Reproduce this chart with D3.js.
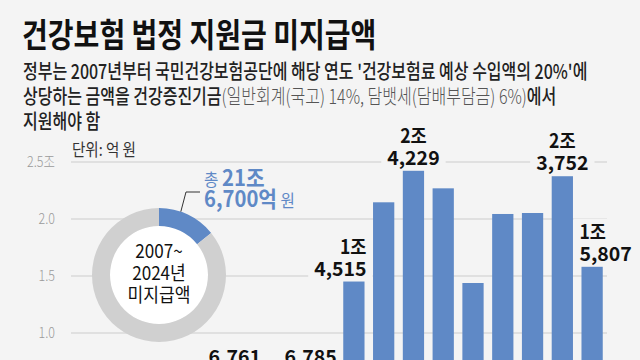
<!DOCTYPE html>
<html><head><meta charset="utf-8">
<script src="https://cdn.jsdelivr.net/npm/d3@7"></script>
<style>
html,body{margin:0;padding:0;background:#f4f4f4;}
svg{display:block;font-family:"Noto Sans CJK KR","Noto Sans",sans-serif;}
</style></head>
<body>
<svg id="c" width="640" height="360"></svg>
<script>
// ---- data ----
const years = [2007,2008,2009,2010,2011,2012,2013,2014,2015,2016,2017,2018,2019,2020,2021,2022,2023,2024];
const values = [2900,1500,3800,4800,5300,6761,3900,3150,6785,14515,21465,24229,22690,14386,20440,20526,23752,15807];
const labeledYears = [2012,2015,2016,2018,2023,2024];
const yTicks = [10000,15000,20000,25000];
const yTickLabels = ["1.0","1.5","2.0","2.5조"];
const donutShare = [0.142, 0.858]; // 미지급 share of ring (blue / gray)
const title = "건강보험 법정 지원금 미지급액";
const subtitle = [
  [["정부는 2007년부터 국민건강보험공단에 해당 연도 '건강보험료 예상 수입액의 20%'에", 0]],
  [["상당하는 금액을 건강증진기금", 0], ["(일반회계(국고) 14%, 담뱃세(담배부담금) 6%)", 1], ["에서", 0]],
  [["지원해야 함", 0]]
];
const unitLabel = "단위: 억 원";
const donutCenter = ["2007~", "2024년", "미지급액"];
const totalLine1 = ["총", "21조"];
const totalLine2 = ["6,700억", "원"];

// ---- drawing ----
const svg = d3.select("#c");
const BLUE = "#5f89c6";
svg.append("rect").attr("width",640).attr("height",360).attr("fill","#f4f4f4");

function stext(parent, x, y, sx, anchor){
  const g = parent.append("g").attr("transform", `translate(${x},${y}) scale(${sx},1)`);
  return g.append("text").attr("text-anchor", anchor || "start");
}

// title
stext(svg, 22, 47, 0.85).text(title)
  .attr("font-size", 33).attr("font-weight", 700).attr("fill", "#111");

// subtitle
subtitle.forEach((line, i) => {
  const t = stext(svg, 23, 79, 0.8).attr("font-size", 20).attr("fill", "#2a2a2a")
    .attr("transform", `translate(0,${i*25})`);
  line.forEach(([s, light]) => {
    t.append("tspan").text(s).attr("font-weight", light ? 300 : 500)
      .attr("fill", light ? "#555" : "#222");
  });
});

// scales
const x = d3.scaleBand().domain(years).range([71, 607]).paddingInner(0.286).paddingOuter(0.143);
const y = d3.scaleLinear().domain([0, 25000]).range([447, 162]);

// gridlines
const grid = svg.append("g");
grid.selectAll("line").data(yTicks).join("line")
  .attr("x1", 71).attr("x2", 607)
  .attr("y1", d => y(d)).attr("y2", d => y(d))
  .attr("stroke", "#cccccc").attr("stroke-width", 1);

// y axis labels
yTicks.forEach((d, i) => {
  stext(svg, 55, y(d) + 5, 0.86, "end").text(yTickLabels[i])
    .attr("font-size", 14.5).attr("font-weight", 300).attr("fill", "#9a9a9a");
});

// unit label
stext(svg, 72, 156, 0.88).text(unitLabel).attr("font-size", 16.5).attr("fill", "#333");

// bars
svg.append("g").selectAll("rect").data(years).join("rect")
  .attr("x", d => x(d)).attr("width", x.bandwidth())
  .attr("y", (d, i) => y(values[i])).attr("height", (d, i) => y(0) - y(values[i]))
  .attr("fill", BLUE);

// bar labels
const anchorFor = {2015: "end", 2016: "end", 2024: "start"};
const lblG = svg.append("g");
years.forEach((yr, i) => {
  if (!labeledYears.includes(yr)) return;
  const v = values[i];
  const anchor = anchorFor[yr] || "middle";
  const ax = anchor === "end" ? x(yr) + x.bandwidth() + 2 : anchor === "start" ? x(yr) - 2 : x(yr) + x.bandwidth()/2;
  const top = y(v);
  const lines = v >= 10000 ? [Math.floor(v/10000) + "조", d3.format(",")(v % 10000)] : [d3.format(",")(v)];
  const g = lblG.append("g");
  const base2 = top - 6;
  const made = [];
  lines.forEach((s, k) => {
    const by = base2 - (lines.length - 1 - k) * 22;
    const t = stext(g, ax, by, s.includes("조") ? 0.9 : 1.0, anchor).text(s)
      .attr("font-size", 19.5).attr("font-weight", 700).attr("fill", "#111");
    made.push(t);
  });
  // background behind label to break gridlines
  let minX = Infinity, maxX = -Infinity, minY = Infinity, maxY = -Infinity;
  made.forEach(t => {
    const b = t.node().getBBox();
    const m = t.node().parentNode.getCTM();
    const sx = m.a;
    const x0 = m.e + b.x * sx, x1 = m.e + (b.x + b.width) * sx;
    minX = Math.min(minX, x0); maxX = Math.max(maxX, x1);
    minY = Math.min(minY, m.f + b.y); maxY = Math.max(maxY, m.f + b.y + b.height);
  });
  g.insert("rect", ":first-child")
    .attr("x", minX - 6).attr("width", maxX - minX + 12)
    .attr("y", minY + 3).attr("height", Math.max(0, Math.min(maxY, top - 1) - minY - 3))
    .attr("fill", "#f4f4f4");
});

// donut
const cx = 159, cy = 275, rO = 67, rI = 49;
const dg = svg.append("g").attr("transform", `translate(${cx},${cy})`);
dg.append("circle").attr("r", rI).attr("fill", "#ffffff");
const pie = d3.pie().sort(null).value(d => d)(donutShare);
const arc = d3.arc().innerRadius(rI).outerRadius(rO);
dg.selectAll("path").data(pie).join("path")
  .attr("d", arc).attr("fill", (d, i) => i === 0 ? BLUE : "#d0d0d0");

donutCenter.forEach((s, i) => {
  stext(dg, 0, -17 + i*22, 0.9, "middle").text(s)
    .attr("font-size", 19).attr("fill", "#111");
});

// leader line
const a0 = 19 * Math.PI / 180;
const p0 = [Math.sin(a0) * rO, -Math.cos(a0) * rO];
dg.append("path")
  .attr("d", d3.line()([p0, [27, -83], [41, -83]]))
  .attr("fill", "none").attr("stroke", "#333").attr("stroke-width", 1);

// total annotation
const t1 = stext(svg, 204, 186, 0.92).attr("fill", BLUE);
t1.append("tspan").text(totalLine1[0]).attr("font-size", 17).attr("font-weight", 400);
t1.append("tspan").text(totalLine1[1]).attr("font-size", 22).attr("font-weight", 700).attr("dx", 4);
const t2 = stext(svg, 204, 207, 0.92).attr("fill", BLUE);
t2.append("tspan").text(totalLine2[0]).attr("font-size", 22).attr("font-weight", 700);
t2.append("tspan").text(totalLine2[1]).attr("font-size", 17).attr("font-weight", 400).attr("dx", 4);
</script>
</body></html>
